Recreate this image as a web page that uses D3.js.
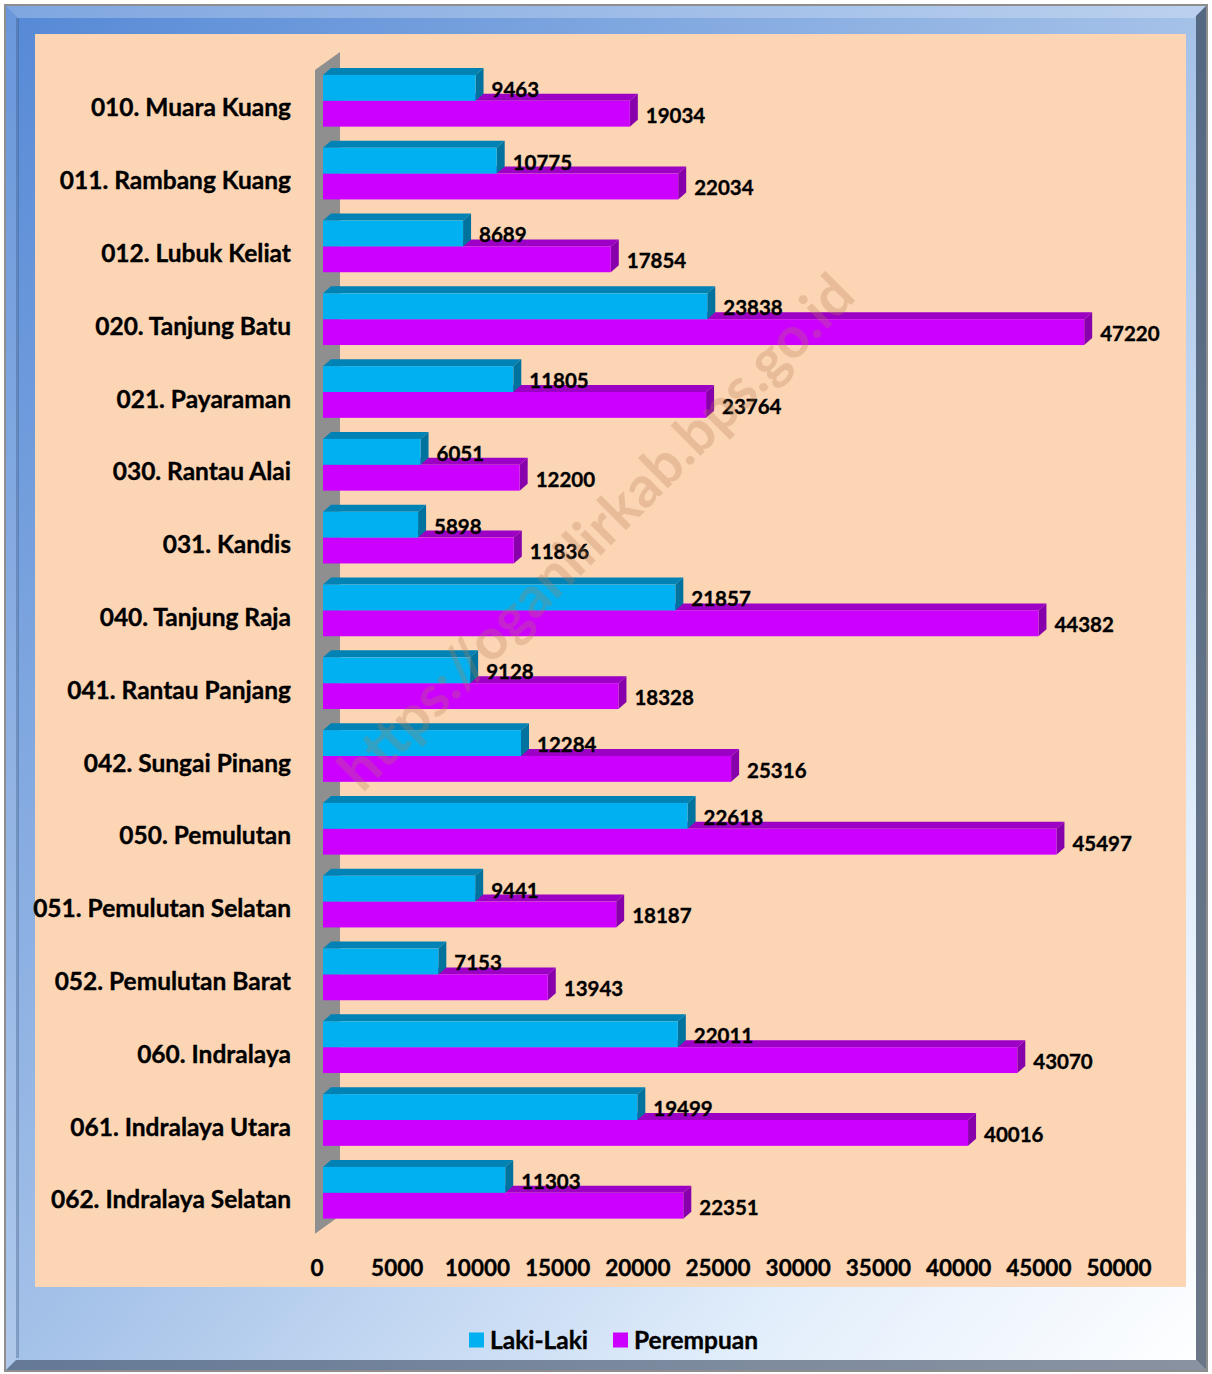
<!DOCTYPE html>
<meta charset="utf-8">
<style>
body { margin: 0; background: #fff; }
text { font-family: Lato, "Noto Sans", sans-serif; font-weight: bold; fill: #000; stroke: #000; stroke-width: 0.35px; }
</style>
<body>
<svg width="1212" height="1374"></svg>
<script src="https://d3js.org/d3.v7.min.js"></script>
<script>
// kecamatan names and population by sex
var categories = ["010. Muara Kuang", "011. Rambang Kuang", "012. Lubuk Keliat", "020. Tanjung Batu",
  "021. Payaraman", "030. Rantau Alai", "031. Kandis", "040. Tanjung Raja", "041. Rantau Panjang",
  "042. Sungai Pinang", "050. Pemulutan", "051. Pemulutan Selatan", "052. Pemulutan Barat",
  "060. Indralaya", "061. Indralaya Utara", "062. Indralaya Selatan"];
var laki = [9463, 10775, 8689, 23838, 11805, 6051, 5898, 21857, 9128, 12284, 22618, 9441, 7153, 22011, 19499, 11303];
var perempuan = [19034, 22034, 17854, 47220, 23764, 12200, 11836, 44382, 18328, 25316, 45497, 18187, 13943, 43070, 40016, 22351];
var seriesNames = ["Laki-Laki", "Perempuan"];
var tickValues = [0, 5000, 10000, 15000, 20000, 25000, 30000, 35000, 40000, 45000, 50000];

var colors = {
  "Laki-Laki": {front: "#00b0f0", top: "#0082b4", side: "#00729e"},
  "Perempuan": {front: "#cc00ff", top: "#9c00c4", side: "#8800ac"}
};
var dx = 8, dy = -7; // 3d depth of bars

var svg = d3.select("svg");
var defs = svg.append("defs");

var bg = defs.append("linearGradient").attr("id", "bgGrad")
  .attr("x1", 0).attr("y1", 0).attr("x2", 1).attr("y2", 1);
bg.append("stop").attr("offset", 0).attr("stop-color", "#5589d6");
bg.append("stop").attr("offset", 0.5).attr("stop-color", "#a4c1e8");
bg.append("stop").attr("offset", 0.8).attr("stop-color", "#e2eefb");
bg.append("stop").attr("offset", 1).attr("stop-color", "#ffffff");

// frame
svg.append("rect").attr("x", 4).attr("y", 4).attr("width", 1204).attr("height", 1368).attr("fill", "#8e8e8e");
svg.append("rect").attr("x", 6).attr("y", 6).attr("width", 1200).attr("height", 1364).attr("fill", "url(#bgGrad)");
// bevel edges
svg.append("polygon").attr("points", "6,6 1206,6 1194,18 18,18").attr("fill", "#ffffff").attr("opacity", 0.25);
svg.append("polygon").attr("points", "6,6 18,18 18,1358 6,1370").attr("fill", "#ffffff").attr("opacity", 0.12);
svg.append("rect").attr("x", 16).attr("y", 18).attr("width", 3).attr("height", 1340).attr("fill", "#34507a").attr("opacity", 0.35);
svg.append("polygon").attr("points", "1206,6 1206,1370 1196,1360 1196,16").attr("fill", "#3a4a60").attr("opacity", 0.75);
svg.append("polygon").attr("points", "6,1370 1206,1370 1196,1360 16,1360").attr("fill", "#3a4a60").attr("opacity", 0.6);

// plot area
svg.append("rect").attr("x", 35).attr("y", 34).attr("width", 1151).attr("height", 1253).attr("fill", "#fcd5b4");

var x = d3.scaleLinear().domain([0, 50000]).range([323, 1129]);
var xt = x.copy().range([316.5, 1118.5]); // floor edge where the tick labels sit

var y = d3.scaleBand().domain(categories).range([64.4, 64.4 + 16 * 72.8])
  .paddingInner(0.29).paddingOuter(0.145);
var ySub = d3.scaleBand().domain(seriesNames).range([0, y.bandwidth()]);

// back wall
var wallTop = y(categories[0]) - 5, wallBot = y(categories[15]) + y.bandwidth() + 15;
svg.append("polygon")
  .attr("points", [[315, wallTop], [340, wallTop - 18], [340, wallBot - 18], [315, wallBot]].join(" "))
  .attr("fill", "#8f8f8f");

var rows = categories.map(function(c, i) {
  return {cat: c, values: [{s: "Laki-Laki", v: laki[i]}, {s: "Perempuan", v: perempuan[i]}]};
});

var g = svg.append("g");
rows.forEach(function(r) {
  // draw Perempuan first so the Laki-Laki bar sits over its top face
  r.values.slice().reverse().forEach(function(d) {
    var x0 = x(0), x1 = x(d.v);
    var y0 = y(r.cat) + ySub(d.s), h = ySub.bandwidth();
    var c = colors[d.s];
    g.append("polygon")
      .attr("points", [[x0, y0], [x0 + dx, y0 + dy], [x1 + dx, y0 + dy], [x1, y0]].join(" "))
      .attr("fill", c.top);
    g.append("polygon")
      .attr("points", [[x1, y0], [x1 + dx, y0 + dy], [x1 + dx, y0 + h + dy], [x1, y0 + h]].join(" "))
      .attr("fill", c.side);
    g.append("rect").attr("x", x0).attr("y", y0).attr("width", x1 - x0).attr("height", h)
      .attr("fill", c.front);
    g.append("text").attr("x", x1 + 16).attr("y", y0 + h - 4)
      .style("font-size", "20.5px").text(d.v);
  });
});

// category labels
svg.append("g").selectAll("text").data(categories).enter().append("text")
  .attr("x", 291)
  .attr("y", function(d) { return y(d) + y.bandwidth() / 2 + 7; })
  .attr("dy", "0.35em")
  .attr("text-anchor", "end")
  .style("font-size", "24.5px")
  .text(function(d) { return d; });

// x axis
var axis = svg.append("g").attr("transform", "translate(0,1268)")
  .call(d3.axisBottom(xt).tickValues(tickValues).tickSize(0).tickFormat(d3.format("d")));
axis.select(".domain").remove();
axis.selectAll("text").attr("y", 0).attr("dy", "0.35em")
  .style("font-size", "22.5px").style("font-family", "Lato").style("font-weight", "bold")
  .attr("fill", "#000").attr("stroke", "#000").attr("stroke-width", 0.35);

// legend
var legendX = [469, 613];
var legend = svg.append("g").selectAll("g").data(seriesNames).enter().append("g")
  .attr("transform", function(d, i) { return "translate(" + legendX[i] + ",1340)"; });
legend.append("rect").attr("x", 0).attr("y", -7.5).attr("width", 15).attr("height", 15)
  .attr("fill", function(d) { return colors[d].front; });
legend.append("text").attr("x", 21).attr("dy", "0.35em").style("font-size", "24.5px")
  .text(function(d) { return d; });

// watermark
svg.append("text")
  .attr("transform", "translate(596,532) rotate(-45)")
  .attr("text-anchor", "middle").attr("dy", "0.35em")
  .style("font-size", "57px").style("fill", "#b57d55").style("stroke", "none").style("opacity", 0.28)
  .text("https://oganilirkab.bps.go.id");
</script>
</body>
